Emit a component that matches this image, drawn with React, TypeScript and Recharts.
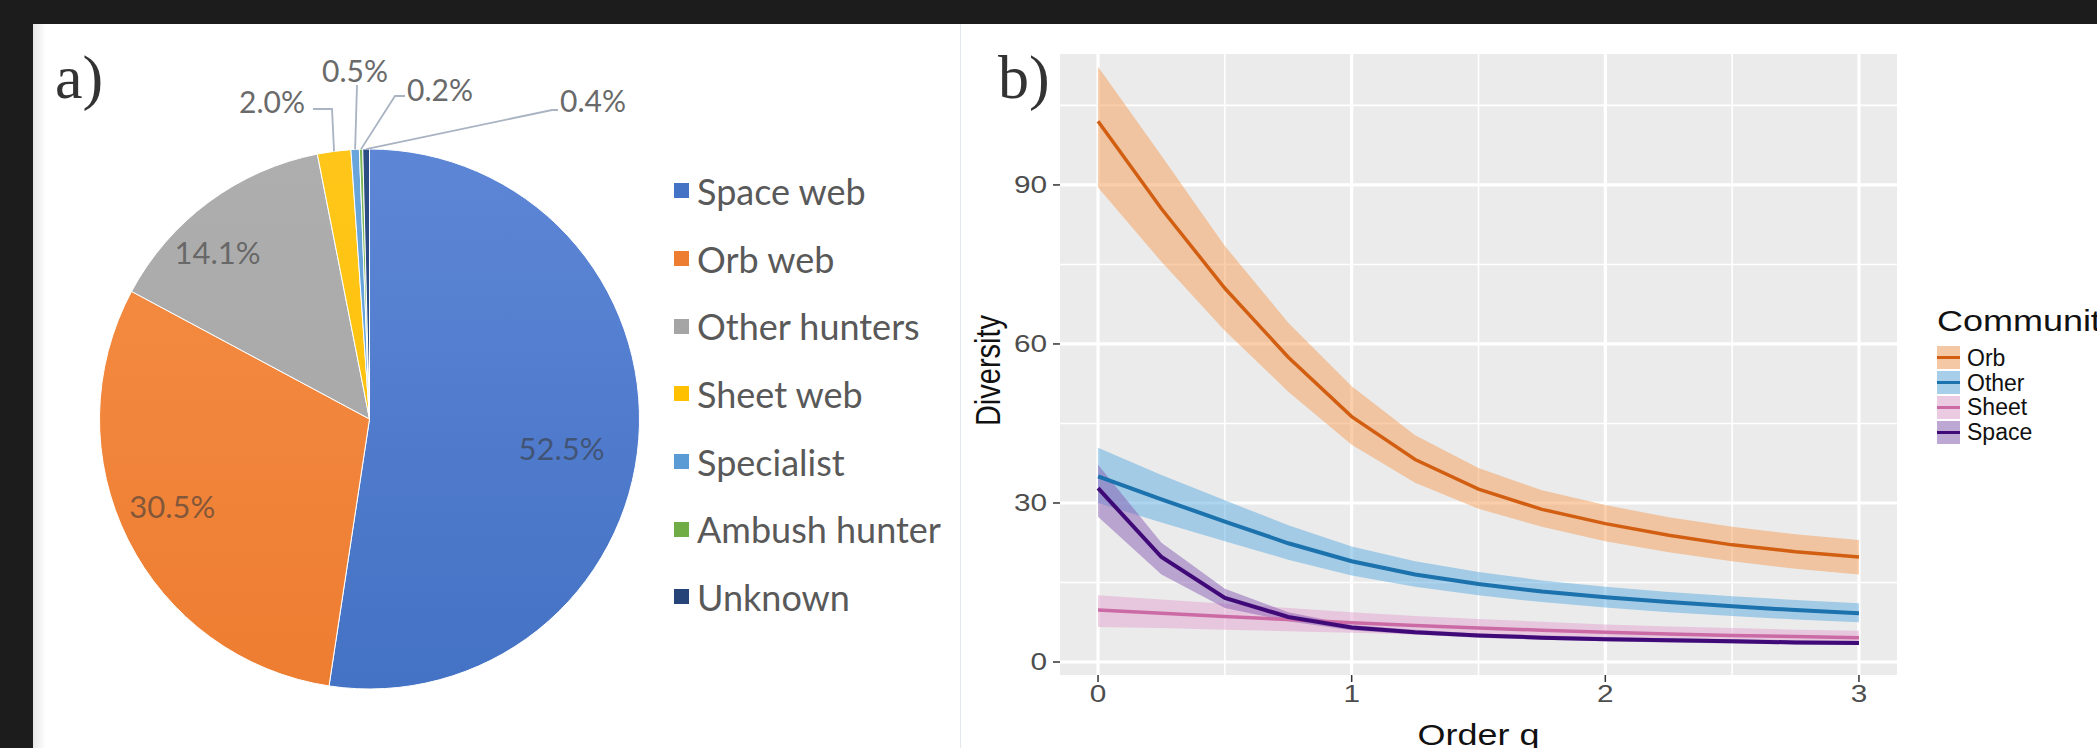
import React from 'react';
import {
  PieChart, Pie, Cell, Legend, ComposedChart, Area, Line, XAxis, YAxis, CartesianGrid, Label,
} from 'recharts';

// ---------- Panel a data ----------
const pieCategories = ['Space web', 'Orb web', 'Other hunters', 'Sheet web', 'Specialist', 'Ambush hunter', 'Unknown'];
const pieValues = [52.5, 30.5, 14.1, 2.0, 0.5, 0.2, 0.4];
const pieColors = ['#4472C4', '#ED7D31', '#A5A5A5', '#FFC000', '#5B9BD5', '#70AD47', '#264478'];
const pieTopColors = ['#5E86D6', '#F58E45', '#AEAEAE', '#FFC61A', '#6AA6DC', '#7DB856', '#2D4D85'];

// ---------- Panel b data ----------
const qValues = [0, 0.25, 0.5, 0.75, 1, 1.25, 1.5, 1.75, 2, 2.25, 2.5, 2.75, 3];
const orbMean = [102, 85.5, 70.5, 57.5, 46.3, 38.2, 32.6, 28.8, 26.1, 23.9, 22.1, 20.8, 19.8];
const orbLower = [89.5, 75.5, 62.5, 51, 41, 33.8, 28.9, 25.5, 22.8, 20.7, 19.0, 17.6, 16.5];
const orbUpper = [112.3, 95.5, 78.5, 64, 52, 42.8, 36.6, 32.4, 29.6, 27.3, 25.5, 24.1, 23.0];
const otherMean = [35, 30.7, 26.5, 22.4, 19, 16.5, 14.7, 13.3, 12.2, 11.3, 10.5, 9.8, 9.2];
const otherLower = [30, 26.3, 22.8, 19.3, 16.3, 14.2, 12.6, 11.3, 10.3, 9.4, 8.7, 8.0, 7.5];
const otherUpper = [40.4, 35.3, 30.5, 25.8, 21.8, 19.0, 17.0, 15.4, 14.2, 13.2, 12.4, 11.7, 11.1];
const sheetMean = [9.8, 9.2, 8.6, 8.0, 7.4, 6.9, 6.4, 6.0, 5.6, 5.3, 5.0, 4.8, 4.6];
const sheetLower = [6.6, 6.4, 6.1, 5.8, 5.5, 5.2, 4.9, 4.6, 4.3, 4.0, 3.8, 3.6, 3.4];
const sheetUpper = [12.6, 11.8, 11.0, 10.2, 9.4, 8.7, 8.1, 7.6, 7.1, 6.7, 6.4, 6.1, 5.9];
const spaceMean = [32.8, 19.8, 12.1, 8.5, 6.5, 5.6, 5.0, 4.6, 4.3, 4.1, 3.9, 3.7, 3.6];
const spaceLower = [27.4, 16.5, 10.2, 7.7, 6.0, 5.2, 4.6, 4.2, 3.9, 3.7, 3.5, 3.3, 3.2];
const spaceUpper = [37.2, 22.5, 13.8, 9.4, 7.0, 6.1, 5.4, 5.0, 4.7, 4.5, 4.3, 4.1, 4.0];

const communities = ['Orb', 'Other', 'Sheet', 'Space'];
const lineColors = ['#D25E12', '#1B72AD', '#CC6AA6', '#3F0A78'];
const ribbonColors = ['#F59D55', '#5CACE0', '#E1A3CF', '#875BB3'];
const lineWidths = [3.5, 4, 3.5, 4];

const xTicks = [0, 1, 2, 3];
const xMinor = [0.5, 1.5, 2.5];
const yTicks = [0, 30, 60, 90];
const yMinor = [15, 45, 75, 105];

const pieData = pieCategories.map((name, i) => ({ name, value: pieValues[i] }));
const seriesMean = [orbMean, otherMean, sheetMean, spaceMean];
const seriesLower = [orbLower, otherLower, sheetLower, spaceLower];
const seriesUpper = [orbUpper, otherUpper, sheetUpper, spaceUpper];
const lineData = qValues.map((q, i) => {
  const row: any = { q };
  communities.forEach((c, k) => {
    row[c] = seriesMean[k][i];
    row[c + '_band'] = [seriesLower[k][i], seriesUpper[k][i]];
  });
  return row;
});

// ---------- styling ----------
const RAD = Math.PI / 180;
const pieFont = 'Lato, "Open Sans", sans-serif';
const ggFont = '"Liberation Sans", Arial, Helvetica, sans-serif';
const SX = 1.24; // horizontal stretch of the ggplot panel's text
const insideLabel: Record<number, { frac: number; shift: number }> = {
  0: { frac: 0.72, shift: -4.4 },
  1: { frac: 0.798, shift: -2.8 },
  2: { frac: 0.837, shift: 5.8 },
};
// outside labels: text anchor point, line start and elbow, relative to pie centre
const outsideLabel: Record<number, { tx: number; ty: number; start: [number, number]; elbow: [number, number] }> = {
  3: { tx: -130.5, ty: -306, start: [-56.5, -310], elbow: [-37.5, -310] },
  4: { tx: -47.5, ty: -337, start: [-12.5, -334], elbow: [-12.5, -334] },
  5: { tx: 37.5, ty: -318, start: [35.5, -323], elbow: [25.5, -323] },
  6: { tx: 190.5, ty: -307, start: [188.5, -309], elbow: [182.5, -309] },
};

const renderPieLabel = (props: any) => {
  const { cx, cy, midAngle, outerRadius, index } = props;
  const txt = pieValues[index].toFixed(1) + '%';
  if (insideLabel[index]) {
    const { frac, shift } = insideLabel[index];
    const a = (midAngle + shift) * RAD;
    const x = cx + outerRadius * frac * Math.cos(a);
    const y = cy - outerRadius * frac * Math.sin(a);
    return (
      <text x={x} y={y} textAnchor="middle" dominantBaseline="central" fontFamily={pieFont} fontSize={31}
        fill="#3a3a3a" fillOpacity={0.62}>{txt}</text>
    );
  }
  const o = outsideLabel[index];
  const px = cx + outerRadius * Math.cos(midAngle * RAD);
  const py = cy - outerRadius * Math.sin(midAngle * RAD);
  const pts = `${cx + o.start[0]},${cy + o.start[1]} ${cx + o.elbow[0]},${cy + o.elbow[1]} ${px},${py}`;
  return (
    <g>
      <polyline points={pts} fill="none" stroke="#A9B3C2" strokeWidth={1.8} />
      <text x={cx + o.tx} y={cy + o.ty} textAnchor="start" fontFamily={pieFont} fontSize={30} fill="#6A6A6A">{txt}</text>
    </g>
  );
};

const PieLegend = () => (
  <div style={{ fontFamily: pieFont, fontSize: 36, color: '#595959' }}>
    {pieCategories.map((c, i) => (
      <div key={c} style={{ display: 'flex', alignItems: 'center', height: 67.7, whiteSpace: 'nowrap' }}>
        <div style={{ width: 15, height: 15, background: pieColors[i], marginRight: 8 }} />
        <span>{c}</span>
      </div>
    ))}
  </div>
);

const stretch = (s: number): React.CSSProperties => ({ display: 'inline-block', transform: `scaleX(${s})`, transformOrigin: 'left center' });

const DivLegend = () => (
  <div style={{ fontFamily: ggFont, color: '#111' }}>
    <div style={{ fontSize: 29, lineHeight: '32px', height: 32, whiteSpace: 'nowrap', marginBottom: 8.6 }}>
      <span style={stretch(SX)}>Community</span>
    </div>
    {communities.map((c, i) => (
      <div key={c} style={{ display: 'flex', alignItems: 'center', height: 24.7, whiteSpace: 'nowrap' }}>
        <svg width={23} height={23} style={{ display: 'block', flex: 'none' }}>
          <rect width={23} height={23} fill="#F2F2F2" />
          <rect width={23} height={23} fill={ribbonColors[i]} fillOpacity={0.5} />
          <line x1={0} x2={23} y1={11.5} y2={11.5} stroke={lineColors[i]} strokeWidth={3} />
        </svg>
        <span style={{ marginLeft: 7, fontSize: 23, lineHeight: '24px' }}>{c}</span>
      </div>
    ))}
  </div>
);

const YTick = (props: any) => {
  const { x, y, payload } = props;
  return (
    <g transform={`translate(${x},${y})`}>
      <text transform={`scale(${SX},1)`} textAnchor="end" dominantBaseline="central" fontFamily={ggFont} fontSize={24} fill="#4D4D4D">{payload.value}</text>
    </g>
  );
};
const XTick = (props: any) => {
  const { x, y, payload } = props;
  return (
    <g transform={`translate(${x},${y})`}>
      <text transform={`scale(${SX},1)`} textAnchor="middle" dy="0.71em" fontFamily={ggFont} fontSize={24} fill="#4D4D4D">{payload.value}</text>
    </g>
  );
};

export default function App() {
  return (
    <div style={{ position: 'fixed', left: 0, top: 0, width: 2097, height: 748, background: '#1C1C1C', overflow: 'hidden' }}>
      {/* Panel a */}
      <div style={{ position: 'absolute', left: 33, top: 24, width: 927, height: 724, background: '#FFFFFF', overflow: 'hidden' }}>
        <div style={{ position: 'absolute', left: 0, top: 0, width: 13, height: 724, background: 'linear-gradient(to right, #E6E6E6, #FFFFFF)' }} />
        <div style={{ position: 'absolute', left: 22, top: 18, fontFamily: '"Liberation Serif", serif', fontSize: 62, color: '#333', lineHeight: '70px' }}>a)</div>
        <div style={{ position: 'absolute', left: 0, top: 0 }}>
          <PieChart width={927} height={724}>
            <defs>
              {pieColors.map((c, i) => (
                <linearGradient key={i} id={`pg${i}`} gradientUnits="userSpaceOnUse" x1="0" y1="121" x2="0" y2="661">
                  <stop offset="0%" stopColor={pieTopColors[i]} />
                  <stop offset="100%" stopColor={c} />
                </linearGradient>
              ))}
            </defs>
            <Pie data={pieData} dataKey="value" nameKey="name" cx={331.5} cy={390} outerRadius={270}
              startAngle={90} endAngle={-270} isAnimationActive={false} label={renderPieLabel} labelLine={false}
              stroke="#FFFFFF" strokeWidth={1}>
              {pieData.map((d, i) => <Cell key={d.name} fill={`url(#pg${i})`} />)}
            </Pie>
            <Legend layout="horizontal" align="center" verticalAlign="middle" content={() => <PieLegend />}
              wrapperStyle={{ left: 641, top: 133, width: 280 }} />
          </PieChart>
        </div>
      </div>
      <div style={{ position: 'absolute', left: 960, top: 24, width: 1, height: 724, background: '#E3E8EE' }} />
      {/* Panel b */}
      <div style={{ position: 'absolute', left: 961, top: 24, width: 1136, height: 724, background: '#FFFFFF', overflow: 'hidden' }}>
        <ComposedChart width={1136} height={724} data={lineData} margin={{ top: 30, right: 200, bottom: 0, left: 0 }}>
          <CartesianGrid fill="#EBEBEB" stroke="#FFFFFF" strokeWidth={1.6} horizontalValues={yMinor} verticalValues={xMinor} />
          <CartesianGrid stroke="#FFFFFF" strokeWidth={3.2} horizontalValues={yTicks} verticalValues={xTicks} />
          <XAxis dataKey="q" type="number" domain={[-0.15, 3.15]} ticks={xTicks} allowDataOverflow height={73}
            axisLine={false} tickLine={{ stroke: '#333', strokeWidth: 1.5 }} tickSize={7} tickMargin={3}
            tick={<XTick />}>
            <Label content={(p: any) => {
              const vb = p.viewBox;
              const x = vb.x + vb.width / 2;
              const y = vb.y + 70;
              return (
                <g transform={`translate(${x},${y})`}>
                  <text transform={`scale(${SX},1)`} textAnchor="middle" fontFamily={ggFont} fontSize={29} fill="#111">Order q</text>
                </g>
              );
            }} />
          </XAxis>
          <YAxis type="number" domain={[-2.45, 114.7]} ticks={yTicks} allowDataOverflow width={99}
            axisLine={false} tickLine={{ stroke: '#333', strokeWidth: 1.5 }} tickSize={7} tickMargin={6}
            tick={<YTick />}>
            <Label content={(p: any) => {
              const vb = p.viewBox;
              const x = vb.x + 26;
              const y = vb.y + vb.height / 2 + 6;
              return (
                <g transform={`translate(${x},${y}) scale(${SX},1) rotate(-90)`}>
                  <text textAnchor="middle" dominantBaseline="central" fontFamily={ggFont} fontSize={29} fill="#111">Diversity</text>
                </g>
              );
            }} />
          </YAxis>
          {communities.map((c, i) => (
            <Area key={c + 'band'} dataKey={c + '_band'} type="linear" stroke="none" fill={ribbonColors[i]} fillOpacity={0.5}
              isAnimationActive={false} activeDot={false} />
          ))}
          {communities.map((c, i) => (
            <Line key={c} dataKey={c} type="linear" stroke={lineColors[i]} strokeWidth={lineWidths[i]} dot={false}
              isAnimationActive={false} activeDot={false} />
          ))}
          <Legend layout="horizontal" align="center" verticalAlign="middle" content={() => <DivLegend />}
            wrapperStyle={{ left: 976, top: 281, width: 200 }} />
        </ComposedChart>
        <div style={{ position: 'absolute', left: 37, top: 18, fontFamily: '"Liberation Serif", serif', fontSize: 62, color: '#333', lineHeight: '70px' }}>b)</div>
      </div>
    </div>
  );
}
